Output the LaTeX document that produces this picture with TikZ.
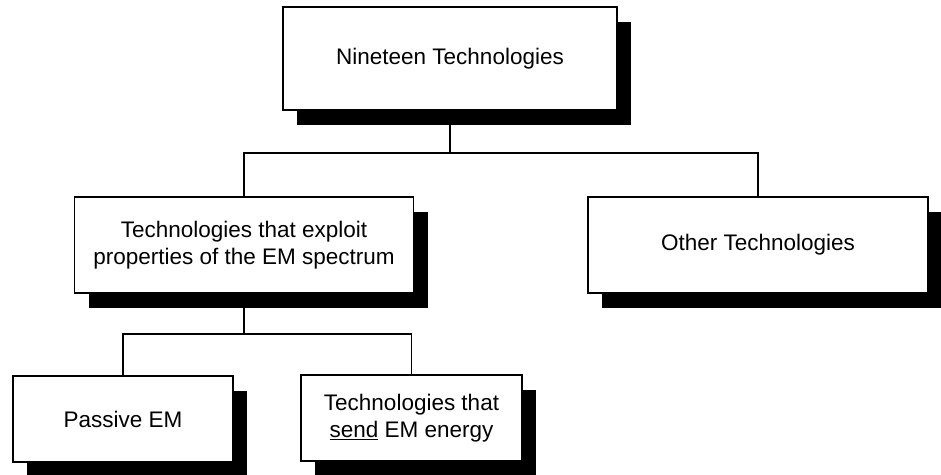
\documentclass[tikz,border=0pt]{standalone}
\usepackage{fontspec}
\setmainfont{Liberation Sans}
\usetikzlibrary{shadows}
\begin{document}
\begin{tikzpicture}[x=1pt, y=-1pt,
every node/.style={font=\fontsize{22.5}{27}\selectfont},
techbox/.style={draw, line width=1.2pt, fill=white, align=center, inner sep=0pt,
  drop shadow={shadow xshift=14pt, shadow yshift=-15pt, fill=black, opacity=1}},
link/.style={line width=1.4pt},
]
\useasboundingbox (0,0) rectangle (941,474);
\node [techbox, minimum width=334pt, minimum height=103pt] (top) at (450,58.5) {Nineteen Technologies};
\node [techbox, minimum width=339pt, minimum height=96pt] (em) at (244,245) {Technologies that exploit\\properties of the EM spectrum};
\node [techbox, minimum width=340pt, minimum height=96pt] (other) at (758,245) {Other Technologies};
\node [techbox, minimum width=220pt, minimum height=86pt] (passive) at (123,419) {Passive EM};
\node [techbox, minimum width=221pt, minimum height=86pt] (send) at (411.5,418) {Technologies that\\\underline{send} EM energy};
% junctions
\coordinate (j1) at (450,153);
\coordinate (j2) at (244,334);
\draw [link] (top.south) -- (j1);
\draw [link] (em.north) |- (j1) -| (other.north);
\draw [link] (em.south) -- (j2);
\draw [link] (passive.north) |- (j2) -| (send.north);
\end{tikzpicture}
\end{document}
